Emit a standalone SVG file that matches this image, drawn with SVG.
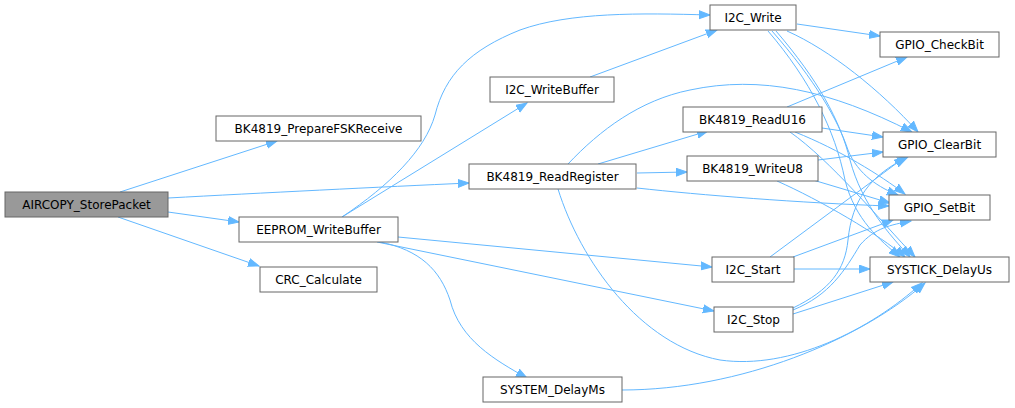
<svg xmlns="http://www.w3.org/2000/svg" width="1015" height="408" viewBox="0 0 1015 408">
<style>
.n rect{fill:#ffffff;stroke:#666666;stroke-width:1}
.root rect{fill:#999999}
.n text{font-family:"DejaVu Sans",sans-serif;font-size:12px;fill:#000000;text-anchor:middle}
.e path{fill:none;stroke:#63b8ff;stroke-width:1;marker-end:url(#ah)}
</style>
<defs>
<marker id="ah" markerUnits="userSpaceOnUse" markerWidth="13" markerHeight="10" refX="11" refY="4.5" orient="auto" viewBox="0 0 13 10">
<path d="M0,0.5 L11,4.5 L0,8.5 z" fill="#63b8ff" stroke="#63b8ff"/>
</marker>
</defs>
<rect width="1015" height="408" fill="#ffffff"/>
<g id="edges" class="e">
<path d="M120,192 L277,141"/>
<path d="M168,198 C260,193 380,187 469,183"/>
<path d="M168,212 L239,222"/>
<path d="M118,217 L259,266"/>
<path d="M342,217 C390,185 425,150 435,115 C445,75 470,50 520,30 C570,12 640,13 710,15"/>
<path d="M342,217 L527,103"/>
<path d="M590,77 L717,30"/>
<path d="M598,164 L708,131"/>
<path d="M637,173 L687,172"/>
<path d="M568,164 C600,130 640,100 690,90 C760,75 830,90 912,132"/>
<path d="M637,188 C700,195 800,203 889,206"/>
<path d="M558,189 C580,260 640,345 720,360 C790,370 870,330 922,283"/>
<path d="M398,237 L712,267"/>
<path d="M377,242 L714,311"/>
<path d="M380,242 C420,250 440,270 450,300 C460,340 495,360 527,378"/>
<path d="M622,390 C740,390 860,340 925,283"/>
<path d="M797,24 L880,36"/>
<path d="M787,31 C830,50 880,90 918,132"/>
<path d="M768,31 C810,80 835,130 845,180 C855,220 880,240 900,257"/>
<path d="M772,31 C815,80 838,120 848,150 C858,175 880,188 898,195"/>
<path d="M776,31 C818,80 840,120 850,160 C862,205 890,235 910,257"/>
<path d="M787,107 L907,57"/>
<path d="M822,128 L883,137"/>
<path d="M795,132 C840,150 880,175 905,194"/>
<path d="M790,132 C830,160 880,220 915,257"/>
<path d="M818,160 L883,152"/>
<path d="M813,180 L890,203"/>
<path d="M777,181 C820,200 880,235 905,257"/>
<path d="M770,257 L905,157"/>
<path d="M793,257 L893,220"/>
<path d="M794,269 L870,269"/>
<path d="M793,308 C830,290 845,270 848,240 C852,200 870,175 908,157"/>
<path d="M793,310 C830,295 845,270 860,245 C875,228 890,225 911,221"/>
<path d="M793,314 L893,282"/>
</g>
<g id="AIRCOPY_StorePacket" class="n root"><rect x="5" y="192" width="163" height="25"/><text x="86.5" y="209">AIRCOPY_StorePacket</text></g>
<g id="BK4819_PrepareFSKReceive" class="n"><rect x="216" y="116" width="205" height="25"/><text x="318.5" y="133">BK4819_PrepareFSKReceive</text></g>
<g id="I2C_WriteBuffer" class="n"><rect x="490" y="77" width="124" height="25"/><text x="552" y="94">I2C_WriteBuffer</text></g>
<g id="BK4819_ReadRegister" class="n"><rect x="469" y="164" width="167" height="25"/><text x="552.5" y="181">BK4819_ReadRegister</text></g>
<g id="EEPROM_WriteBuffer" class="n"><rect x="239" y="217" width="159" height="25"/><text x="318.5" y="234">EEPROM_WriteBuffer</text></g>
<g id="CRC_Calculate" class="n"><rect x="260" y="267" width="117" height="25"/><text x="318.5" y="284">CRC_Calculate</text></g>
<g id="SYSTEM_DelayMs" class="n"><rect x="483" y="377" width="139" height="25"/><text x="552.5" y="394">SYSTEM_DelayMs</text></g>
<g id="I2C_Write" class="n"><rect x="710" y="5" width="86" height="25"/><text x="753" y="22">I2C_Write</text></g>
<g id="BK4819_ReadU16" class="n"><rect x="683" y="107" width="139" height="25"/><text x="752.5" y="124">BK4819_ReadU16</text></g>
<g id="BK4819_WriteU8" class="n"><rect x="687" y="156" width="131" height="25"/><text x="752.5" y="173">BK4819_WriteU8</text></g>
<g id="I2C_Start" class="n"><rect x="712" y="257" width="82" height="25"/><text x="753" y="274">I2C_Start</text></g>
<g id="I2C_Stop" class="n"><rect x="714" y="307" width="79" height="25"/><text x="753.5" y="324">I2C_Stop</text></g>
<g id="GPIO_CheckBit" class="n"><rect x="880" y="32" width="119" height="25"/><text x="939.5" y="49">GPIO_CheckBit</text></g>
<g id="GPIO_ClearBit" class="n"><rect x="883" y="132" width="113" height="25"/><text x="939.5" y="149">GPIO_ClearBit</text></g>
<g id="GPIO_SetBit" class="n"><rect x="889" y="195" width="101" height="25"/><text x="939.5" y="212">GPIO_SetBit</text></g>
<g id="SYSTICK_DelayUs" class="n"><rect x="870" y="257" width="139" height="25"/><text x="939.5" y="274">SYSTICK_DelayUs</text></g>
</svg>
